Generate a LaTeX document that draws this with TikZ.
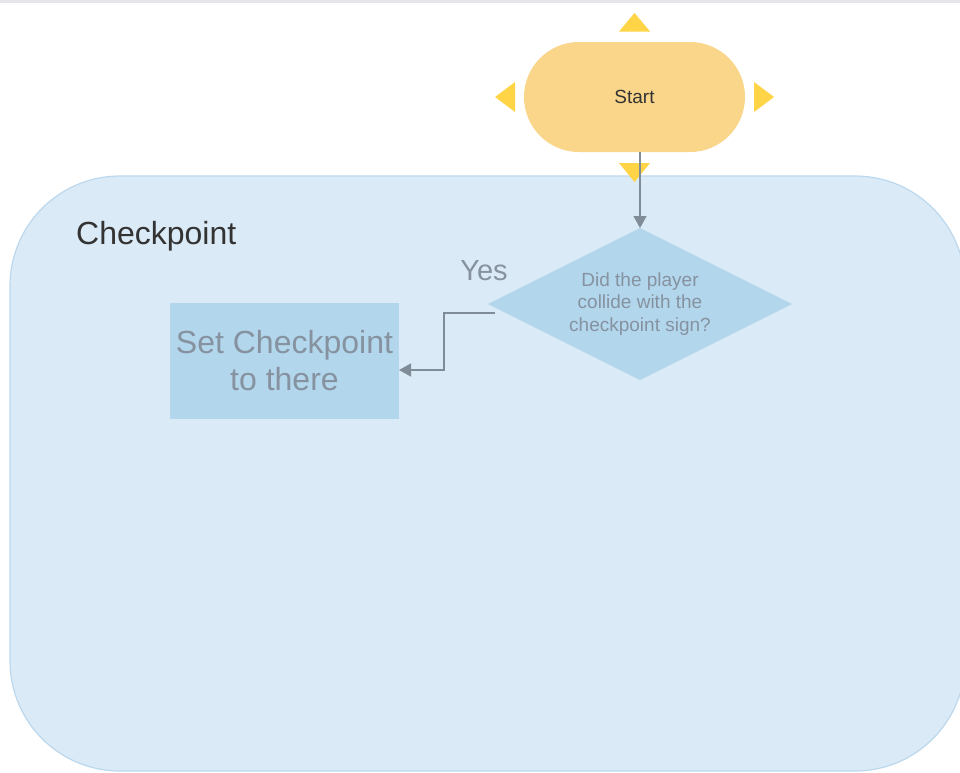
\documentclass[tikz,border=0pt]{standalone}
\usepackage{fontspec}
\setmainfont{Liberation Sans}
\usetikzlibrary{shapes.geometric,arrows.meta,calc}

\definecolor{stripgray}{HTML}{E4E6E9}
\definecolor{poolfill}{HTML}{DAEAF6}
\definecolor{poolline}{HTML}{BCD8EE}
\definecolor{stepfill}{HTML}{B2D6EC}
\definecolor{startfill}{HTML}{FAD68A}
\definecolor{handle}{HTML}{FFD447}
\definecolor{flowline}{HTML}{808D99}
\definecolor{softtext}{HTML}{8692A0}
\definecolor{darktext}{HTML}{333333}

\tikzset{
  terminal/.style={draw=none, fill=startfill, minimum width=221pt, minimum height=110pt,
    rounded corners=55pt, inner sep=0pt, outer sep=0pt, text=darktext,
    font=\fontsize{19}{23}\selectfont},
  decision/.style={diamond, draw=none, fill=stepfill, minimum width=304pt, minimum height=152pt,
    aspect=2, inner sep=0pt, outer sep=0pt, text=softtext, align=center,
    font=\fontsize{19}{22.5}\selectfont},
  process/.style={rectangle, draw=none, fill=stepfill, minimum width=229pt, minimum height=116pt,
    inner sep=0pt, outer sep=0pt, text=softtext, align=center,
    font=\fontsize{32}{37}\selectfont},
  flow/.style={draw=flowline, line width=1.3pt, -{Triangle[width=13pt,length=12pt]}},
  handlemark/.style={fill=handle},
}

\begin{document}
\begin{tikzpicture}[x=1pt,y=-1pt]
  \useasboundingbox (0,0) rectangle (960,772);
  \clip (0,0) rectangle (960,772);
  \fill[white] (0,0) rectangle (960,772);
  \fill[stripgray] (0,0) rectangle (960,3);

  % swimlane container
  \draw[fill=poolfill, draw=poolline, line width=1.2pt, rounded corners=110pt]
    (10,176) rectangle (965,771);
  \node[anchor=base west, inner sep=0pt, text=darktext, font=\fontsize{32}{37}\selectfont]
    (lanelabel) at (76,244) {Checkpoint};

  % start terminal with its four connection handles
  \node[terminal] (start) at (634.5,97) {Start};
  \begin{scope}[shift={(start.center)}]
    \fill[handlemark] (0,-84) -- (-15.5,-65.5) -- (15.5,-65.5) -- cycle;
    \fill[handlemark] (0,85) -- (-15.5,66) -- (15.5,66) -- cycle;
    \fill[handlemark] (-139.5,0) -- (-119.5,-15) -- (-119.5,15) -- cycle;
    \fill[handlemark] (139.5,0) -- (119.5,-15) -- (119.5,15) -- cycle;
  \end{scope}

  % decision and action
  \node[decision] (dia) at (640,304) {Did the player\\collide with the\\checkpoint sign?};
  \node[process] (setcp) at (284.5,361) {Set Checkpoint\\to there};
  \node[anchor=base, inner sep=0pt, text=softtext, font=\fontsize{29}{34}\selectfont]
    (yes) at (484,280) {Yes};

  % connectors
  \draw[flow] (start.south -| dia.north) -- (dia.north);
  \coordinate (yesout) at ($(dia.west)+(7,9)$);
  \draw[flow] (yesout) -- ++(-51,0) |- ($(setcp.east)+(0,9)$);
\end{tikzpicture}
\end{document}
